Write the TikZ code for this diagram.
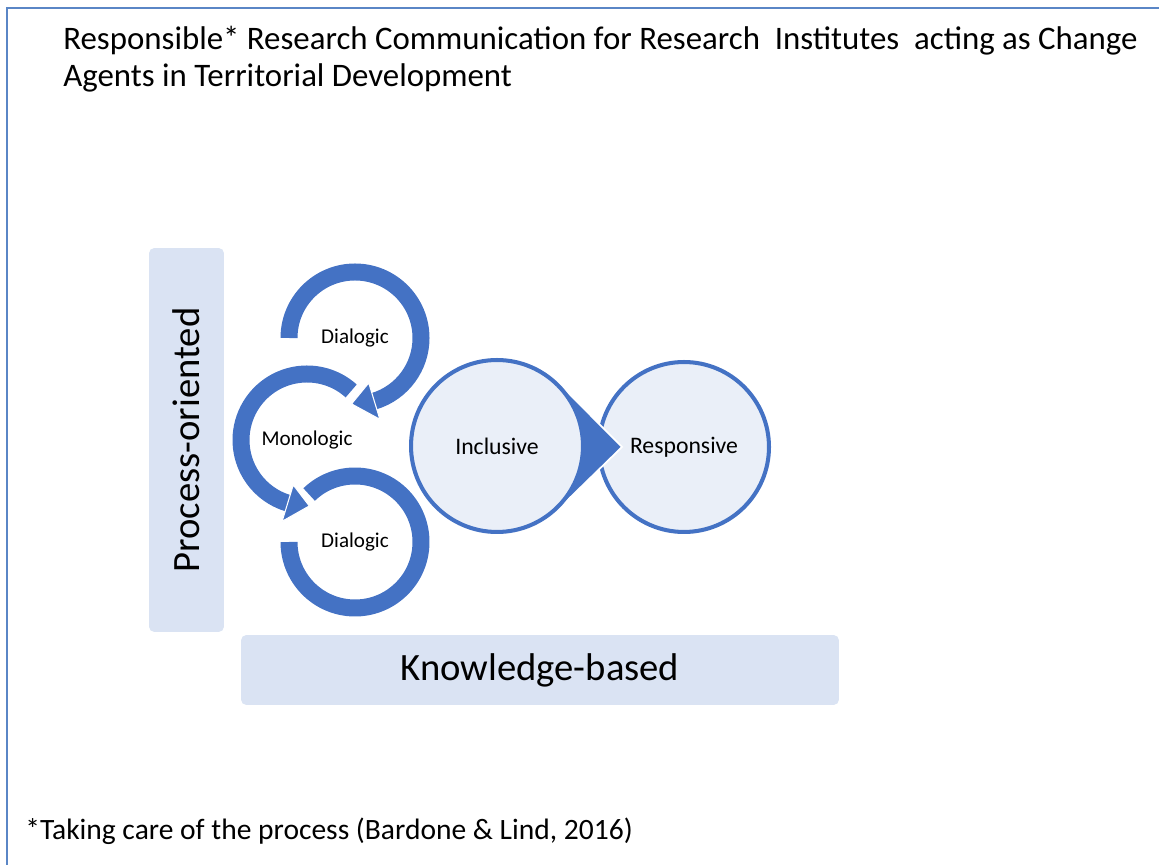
\documentclass[tikz,border=0pt]{standalone}
\usepackage{fontspec}
\setmainfont{Carlito}
\usepackage{tikz}
\usetikzlibrary{calc,positioning}
\definecolor{ringblue}{HTML}{4472C4}
\definecolor{framblue}{HTML}{5A86C6}
\definecolor{boxfill}{HTML}{DAE3F3}
\definecolor{bubfill}{HTML}{EAEFF8}

\begin{document}
\begin{tikzpicture}[x=0.02cm,y=0.02cm]
\tikzstyle{ringlabel}=[inner sep=0pt,font=\fontsize{12}{14}\selectfont]
\tikzstyle{ring}=[ringblue,line width=0.34cm]
\tikzstyle{head}=[fill=ringblue,draw=white,line width=0.6pt]
\tikzstyle{bubble}=[circle,draw=ringblue,fill=bubfill,line width=2.3pt,inner sep=0pt,font=\fontsize{13.5}{16}\selectfont]
\tikzstyle{axisbox}=[fill=boxfill,rounded corners=3pt,inner sep=0pt,font=\fontsize{22}{26}\selectfont]
\tikzstyle{plain}=[inner sep=0pt,font=\fontsize{18.7}{21}\selectfont]
\useasboundingbox (0,0) rectangle (1159,865);
\draw[framblue,line width=1.4pt] (7,0) -- (7,857) -- (1159,857);
% heading and footnote
\node[plain,anchor=base west] (title1) at (63,815) {Responsible* Research Communication for Research\ \ Institutes\ \ acting as Change};
\node[plain,anchor=base west] (title2) at (63,778) {Agents in Territorial Development};
\node[plain,anchor=base west,font=\fontsize{16.8}{20}\selectfont] (foot) at (25,25) {*Taking care of the process (Bardone \& Lind, 2016)};
% axes
\node[axisbox,minimum width=1.5cm,minimum height=7.68cm] (proc) at (186.5,425) {};
\node[rotate=90,inner sep=0pt,font=\fontsize{22}{26}\selectfont] (proclabel) at (proc.center) {Process-oriented};
\node[axisbox,minimum width=11.96cm,minimum height=1.4cm] (know) at (540,195) {Knowledge-based};
% circular arrows
\foreach \name/\point/\txt in {
	dtop/{355,527}/Dialogic,
	mono/{307,425}/Monologic,
	dbot/{355,323}/Dialogic}
	\node[ringlabel] (\name) at (\point) {\txt};
\draw[ring] ([shift={(134:66)}]dbot.center) arc[start angle=134,end angle=-180,radius=66];
\draw[ring] ([shift={(48:66)}]mono.center) arc[start angle=48,end angle=253,radius=66];
\fill[head] ([shift={(253:47)}]mono.center) -- ([shift={(253:85)}]mono.center) -- ([shift={(272:66)}]mono.center) -- cycle;
\draw[ring] ([shift={(180:66)}]dtop.center) arc[start angle=180,end angle=-73,radius=66];
\fill[head] ([shift={(-73:47)}]dtop.center) -- ([shift={(-73:85)}]dtop.center) -- ([shift={(-93:66)}]dtop.center) -- cycle;
% inclusive -> responsive
\node[bubble,minimum size=3.4cm] (resp) at (684,418) {};
\coordinate (inclc) at (497,419);
\coordinate (tip) at (622,418);
\fill[ringblue,draw=white,line width=1pt] ([shift={(45:88)}]inclc) -- (tip) -- ([shift={(-45:88)}]inclc) -- cycle;
\node[bubble,minimum size=3.44cm] (incl) at (inclc) {Inclusive};
\node[inner sep=0pt,font=\fontsize{13.5}{16}\selectfont] (resplabel) at (resp.center) {Responsive};
\end{tikzpicture}
\end{document}
